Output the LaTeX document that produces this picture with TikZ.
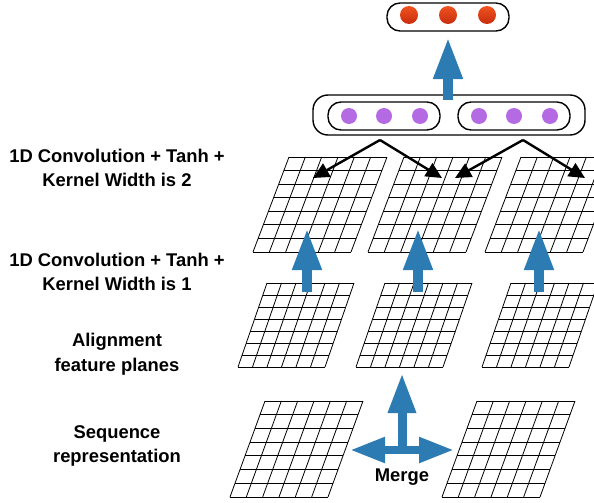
\documentclass[tikz,border=0pt]{standalone}
\usepackage{fontspec}
\setsansfont{Liberation Sans}
\usetikzlibrary{arrows.meta,calc}
\definecolor{flowblue}{RGB}{44,123,178}
\definecolor{dotpurple}{RGB}{180,106,226}
\definecolor{dotredtop}{RGB}{240,84,32}
\definecolor{dotredbot}{RGB}{200,44,12}
% feature plane: bottom-left x, bottom-left y, width, height, skew
\newcommand{\featplane}[5]{%
  \foreach \v in {0,...,7} {
    \draw[gridline] ({#1+#5*\v/7},{#2-#4*\v/7}) -- ++(#3,0);
  }
  \foreach \u in {0,...,6} {
    \draw[gridline] ({#1+#3*\u/6},#2) -- ++(#5,-#4);
  }
}
\tikzset{
  gridline/.style = {line width=0.8pt, black},
  label/.style    = {font=\sffamily\bfseries\fontsize{18.4}{24.5}\selectfont, align=center},
  layerbox/.style = {draw, line width=1.4pt, rounded corners=13pt, inner sep=0pt},
  upflow/.style   = {flowblue, line width=10pt, -{Triangle[length=42pt,width=27pt]}},
  fanout/.style   = {line width=2.4pt, -{Triangle[length=16pt,width=15pt]}}
}

\begin{document}
\begin{tikzpicture}
  [
    x=1pt, y=-1pt,
    pdot/.style = {circle, fill=dotpurple, minimum size=16pt, inner sep=0pt},
    rdot/.style = {circle, top color=dotredtop, bottom color=dotredbot,
                   minimum size=18pt, inner sep=0pt}
  ]
  \useasboundingbox (0,0) rectangle (594,503);
  \clip (0,0) rectangle (594,503);

  % planes
  \featplane{253}{252}{98}{95}{36}
  \featplane{368}{252}{98}{95}{36}
  \featplane{485}{252}{98}{95}{36}
  \featplane{238}{367}{87}{84}{29}
  \featplane{356}{367}{87}{84}{29}
  \featplane{482}{367}{87}{84}{29}
  \featplane{230}{497}{98}{96}{35}
  \featplane{442}{497}{98}{96}{35}

  % labels
  \node [label] at (117,168) (lblktwo)  {1D Convolution + Tanh +\\Kernel Width is 2};
  \node [label] at (117,272) (lblkone)  {1D Convolution + Tanh +\\Kernel Width is 1};
  \node [label] at (117,354) (lblalign) {Alignment\\feature planes};
  \node [label] at (117,446) (lblseq)   {Sequence\\representation};
  \node [label] at (402,477) (lblmerge) {Merge};

  % output layers
  \node [layerbox, minimum width=122pt, minimum height=28pt] at (448,17)  (outbox) {};
  \node [layerbox, minimum width=272pt, minimum height=40pt, rounded corners=15pt] at (449,115) (poolbox) {};
  \node [layerbox, minimum width=112pt, minimum height=28pt] at (384,116) (poolleft) {};
  \node [layerbox, minimum width=112pt, minimum height=28pt] at (514,116) (poolright) {};

  \node [rdot] at (409,15) (r1) {};
  \node [rdot] at (448,15) (r2) {};
  \node [rdot] at (487,15) (r3) {};
  \node [pdot] at (349,116) (p1) {};
  \node [pdot] at (384,116) (p2) {};
  \node [pdot] at (420,116) (p3) {};
  \node [pdot] at (479,116) (p4) {};
  \node [pdot] at (514,116) (p5) {};
  \node [pdot] at (550,116) (p6) {};

  % arrow ends
  \coordinate (toptail) at (448,100);
  \coordinate (toptip)  at (448,37);
  \coordinate (kt1) at (307,292);  \coordinate (kh1) at (307,228);
  \coordinate (kt2) at (418,292);  \coordinate (kh2) at (418,228);
  \coordinate (kt3) at (539,292);  \coordinate (kh3) at (539,228);
  \coordinate (mc)  at (402,450);
  \coordinate (mup) at (402,373);
  \coordinate (ml)  at (350,450);
  \coordinate (mr)  at (454,450);
  \coordinate (fa1) at (380,140);  \coordinate (fa2) at (523,140);
  \coordinate (ft1) at (313,178);  \coordinate (ft2) at (442,178);
  \coordinate (ft3) at (455,178);  \coordinate (ft4) at (585,178);

  % blue flow
  \draw [upflow] (toptail) -- (toptip);
  \draw [upflow] (kt1) -- (kh1);
  \draw [upflow] (kt2) -- (kh2);
  \draw [upflow] (kt3) -- (kh3);
  \draw [upflow, line width=9pt, -{Triangle[length=40pt,width=26pt]}] (mc) -- (mup);
  \draw [flowblue, line width=8pt, {Triangle[length=35pt,width=24pt]}-{Triangle[length=35pt,width=24pt]}] (ml) -- (mr);

  % fan out
  \draw [fanout] (fa1) -- (ft1);
  \draw [fanout] (fa1) -- (ft2);
  \draw [fanout] (fa2) -- (ft3);
  \draw [fanout] (fa2) -- (ft4);

\end{tikzpicture}
\end{document}
